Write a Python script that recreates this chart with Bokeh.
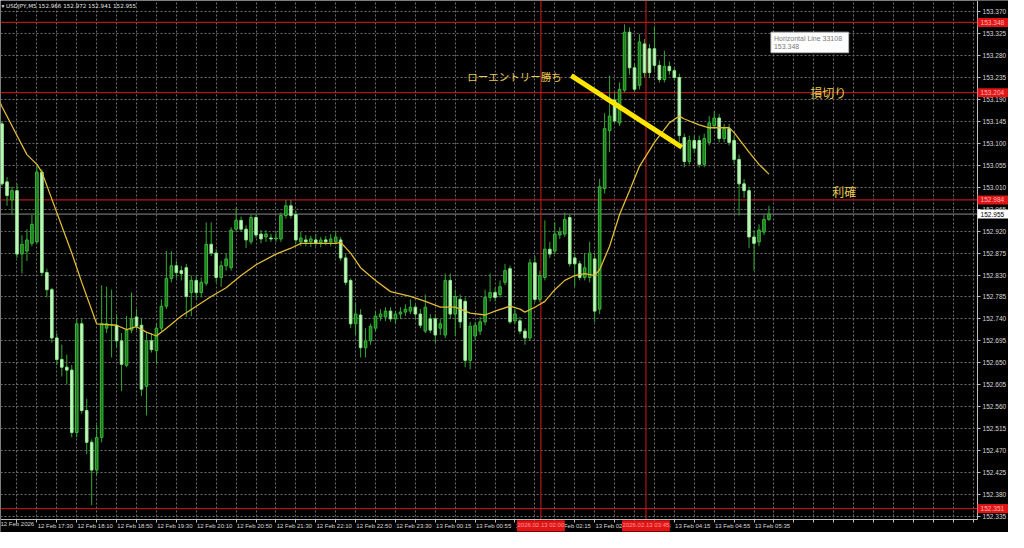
from bokeh.plotting import figure
from bokeh.models import (Range1d, FixedTicker, NumeralTickFormatter, Span, Label,
                          BoxAnnotation, ColumnDataSource)
from bokeh.embed import file_html
from bokeh.resources import INLINE

# ---------------- data (USDJPY M5) ----------------
bars = list(range(1, 156))

opens = [153.140, 153.021, 152.984, 153.003, 152.873, 152.879, 152.895, 152.898, 153.041, 152.835,
         152.800, 152.701, 152.657, 152.641, 152.635, 152.507, 152.730, 152.552, 152.487, 152.430,
         152.497, 152.721, 152.727, 152.727, 152.695, 152.645, 152.717, 152.744, 152.727, 152.602,
         152.695, 152.675, 152.721, 152.766, 152.823, 152.849, 152.839, 152.845, 152.794, 152.819,
         152.794, 152.813, 152.893, 152.875, 152.825, 152.849, 152.845, 152.924, 152.942, 152.924,
         152.898, 152.948, 152.914, 152.908, 152.906, 152.904, 152.904, 152.952, 152.972, 152.954,
         152.898, 152.902, 152.898, 152.902, 152.896, 152.902, 152.898, 152.898, 152.902, 152.865,
         152.819, 152.730, 152.748, 152.681, 152.695, 152.721, 152.744, 152.744, 152.756, 152.740,
         152.750, 152.754, 152.756, 152.764, 152.750, 152.715, 152.740, 152.740, 152.721, 152.707,
         152.819, 152.750, 152.780, 152.776, 152.655, 152.705, 152.715, 152.734, 152.784, 152.794,
         152.790, 152.815, 152.843, 152.736, 152.736, 152.715, 152.701, 152.855, 152.780, 152.825,
         152.883, 152.879, 152.912, 152.914, 152.948, 152.865, 152.853, 152.825, 152.825, 152.863,
         152.760, 153.007, 153.126, 153.189, 153.142, 153.209, 153.328, 153.255, 153.219, 153.304,
         153.294, 153.294, 153.260, 153.231, 153.258, 153.249, 153.235, 153.112, 153.063, 153.106,
         153.106, 153.057, 153.102, 153.136, 153.152, 153.110, 153.130, 153.106, 153.067, 153.017,
         153.003, 152.908, 152.898, 152.918, 152.944]

highs = [153.146, 153.031, 153.011, 153.017, 152.912, 152.924, 152.954, 153.057, 153.047, 152.843,
         152.804, 152.711, 152.687, 152.667, 152.645, 152.740, 152.740, 152.576, 152.493, 152.523,
         152.809, 152.806, 152.800, 152.750, 152.711, 152.746, 152.794, 152.760, 152.740, 152.711,
         152.711, 152.730, 152.780, 152.879, 152.879, 152.859, 152.849, 152.853, 152.829, 152.829,
         152.825, 152.938, 152.938, 152.883, 152.859, 152.875, 152.928, 152.968, 152.950, 152.932,
         152.954, 152.954, 152.922, 152.922, 152.914, 152.918, 152.958, 152.984, 152.984, 152.962,
         152.918, 152.912, 152.910, 152.914, 152.908, 152.910, 152.914, 152.918, 152.908, 152.873,
         152.823, 152.774, 152.760, 152.721, 152.730, 152.756, 152.760, 152.764, 152.764, 152.756,
         152.764, 152.770, 152.780, 152.770, 152.760, 152.790, 152.750, 152.750, 152.740, 152.833,
         152.833, 152.800, 152.790, 152.784, 152.734, 152.734, 152.744, 152.800, 152.833, 152.804,
         152.819, 152.853, 152.849, 152.760, 152.744, 152.721, 152.863, 152.869, 152.839, 152.942,
         152.898, 152.938, 152.928, 152.958, 152.954, 152.875, 152.859, 152.875, 152.898, 152.875,
         153.027, 153.162, 153.239, 153.205, 153.225, 153.344, 153.338, 153.264, 153.324, 153.314,
         153.304, 153.340, 153.270, 153.290, 153.268, 153.255, 153.243, 153.120, 153.116, 153.116,
         153.116, 153.120, 153.156, 153.166, 153.160, 153.140, 153.140, 153.116, 153.077, 153.027,
         153.011, 152.922, 152.934, 152.954, 152.972]

lows = [153.013, 152.972, 152.954, 152.865, 152.833, 152.859, 152.889, 152.895, 152.829, 152.784,
        152.691, 152.645, 152.622, 152.606, 152.497, 152.497, 152.546, 152.463, 152.358, 152.420,
        152.487, 152.711, 152.661, 152.681, 152.592, 152.641, 152.711, 152.717, 152.582, 152.542,
        152.671, 152.647, 152.715, 152.760, 152.815, 152.823, 152.819, 152.744, 152.746, 152.780,
        152.784, 152.808, 152.869, 152.815, 152.806, 152.839, 152.839, 152.918, 152.918, 152.885,
        152.893, 152.906, 152.895, 152.898, 152.898, 152.898, 152.898, 152.946, 152.946, 152.895,
        152.889, 152.889, 152.887, 152.889, 152.887, 152.891, 152.889, 152.893, 152.859, 152.809,
        152.721, 152.707, 152.661, 152.661, 152.687, 152.715, 152.736, 152.736, 152.734, 152.730,
        152.740, 152.746, 152.750, 152.740, 152.721, 152.711, 152.711, 152.691, 152.707, 152.701,
        152.740, 152.705, 152.721, 152.641, 152.637, 152.697, 152.707, 152.727, 152.776, 152.776,
        152.784, 152.809, 152.730, 152.730, 152.709, 152.687, 152.695, 152.774, 152.774, 152.819,
        152.865, 152.873, 152.904, 152.908, 152.847, 152.806, 152.819, 152.819, 152.815, 152.734,
        152.750, 152.997, 153.082, 153.140, 153.136, 153.205, 153.241, 153.205, 153.211, 153.235,
        153.235, 153.251, 153.225, 153.225, 153.241, 153.229, 153.102, 153.051, 153.057, 153.080,
        153.051, 153.051, 153.096, 153.130, 153.102, 153.102, 153.096, 153.057, 152.952, 152.988,
        152.885, 152.839, 152.889, 152.912, 152.941]

closes = [153.017, 152.993, 153.003, 152.873, 152.893, 152.902, 152.934, 153.041, 152.835, 152.800,
          152.701, 152.657, 152.641, 152.635, 152.507, 152.730, 152.552, 152.487, 152.430, 152.497,
          152.730, 152.730, 152.728, 152.695, 152.647, 152.717, 152.740, 152.725, 152.596, 152.695,
          152.677, 152.721, 152.766, 152.823, 152.849, 152.835, 152.833, 152.786, 152.819, 152.794,
          152.815, 152.893, 152.875, 152.825, 152.849, 152.863, 152.922, 152.942, 152.924, 152.902,
          152.948, 152.912, 152.904, 152.914, 152.904, 152.906, 152.952, 152.972, 152.952, 152.902,
          152.906, 152.898, 152.904, 152.896, 152.902, 152.898, 152.904, 152.908, 152.865, 152.815,
          152.730, 152.750, 152.681, 152.695, 152.725, 152.746, 152.750, 152.756, 152.740, 152.750,
          152.754, 152.760, 152.764, 152.750, 152.727, 152.764, 152.717, 152.707, 152.730, 152.819,
          152.750, 152.786, 152.734, 152.655, 152.725, 152.727, 152.734, 152.784, 152.794, 152.784,
          152.806, 152.839, 152.734, 152.750, 152.715, 152.701, 152.855, 152.780, 152.829, 152.883,
          152.873, 152.914, 152.918, 152.944, 152.853, 152.853, 152.825, 152.845, 152.875, 152.756,
          153.011, 153.130, 153.156, 153.146, 153.211, 153.328, 153.255, 153.211, 153.308, 153.245,
          153.245, 153.260, 153.231, 153.258, 153.249, 153.235, 153.116, 153.063, 153.106, 153.090,
          153.057, 153.110, 153.142, 153.152, 153.110, 153.130, 153.102, 153.067, 153.017, 153.003,
          152.908, 152.895, 152.922, 152.944, 152.955]

# moving average
ma_bars = [0, 1, 4, 6, 8, 9, 12, 15, 17, 20,
           24, 26, 28, 30, 32, 34, 37, 40, 43, 46,
           49, 52, 56, 59, 61, 68, 69, 71, 73, 76,
           79, 83, 86, 89, 92, 95, 98, 100, 103, 105,
           106, 108, 110, 112, 114, 116, 118, 120, 121, 123,
           125, 127, 129, 132, 135, 137, 138, 141, 143, 147,
           148, 151, 153, 155]
ma_vals = [153.197, 153.175, 153.116, 153.077, 153.057, 153.041, 152.958, 152.875, 152.815, 152.730,
           152.727, 152.718, 152.724, 152.713, 152.705, 152.721, 152.746, 152.766, 152.786, 152.804,
           152.829, 152.851, 152.873, 152.885, 152.895, 152.895, 152.897, 152.875, 152.845, 152.819,
           152.796, 152.786, 152.776, 152.764, 152.764, 152.752, 152.748, 152.756, 152.766, 152.760,
           152.754, 152.764, 152.776, 152.800, 152.819, 152.829, 152.833, 152.829, 152.841, 152.889,
           152.954, 153.003, 153.053, 153.102, 153.142, 153.156, 153.150, 153.138, 153.132, 153.132,
           153.122, 153.082, 153.057, 153.037]

price_ticks = [152.335, 152.380, 152.425, 152.470, 152.515, 152.560, 152.605, 152.650,
               152.695, 152.740, 152.785, 152.830, 152.875, 152.920, 152.965, 153.010,
               153.055, 153.100, 153.145, 153.190, 153.235, 153.280, 153.325, 153.370]

time_tick_bars = [8, 16, 24, 32, 40, 48, 56, 64, 72, 80, 88, 96, 104, 112, 120, 128, 136, 144, 152]
time_labels = ["12 Feb 17:30", "12 Feb 18:10", "12 Feb 18:50", "12 Feb 19:30", "12 Feb 20:10",
               "12 Feb 20:50", "12 Feb 21:30", "12 Feb 22:10", "12 Feb 22:50", "12 Feb 23:30",
               "13 Feb 00:15", "13 Feb 00:55", "13 Feb 01:35", "13 Feb 02:15", "13 Feb 02:55",
               "13 Feb 03:35", "13 Feb 04:15", "13 Feb 04:55", "13 Feb 05:35"]
first_date_label = "12 Feb 2026"

h_levels = [153.348, 153.204, 152.984, 152.351]
bid_price = 152.955
v_line_bars = [109.2, 130.3]
v_line_labels = ["2026.02.13 02:00", "2026.02.13 03:45"]

arrow_bars = [115.3, 137.5]
arrow_prices = [153.239, 153.092]

title_text = "\u25be USDJPY,M5  152.966 152.972 152.941 152.955"

# ---------------- figure ----------------
# the frame fills the whole canvas; the price and time scales sit at fixed
# positions inside it (as in the terminal), so their tags can be drawn on them
X0, XR = 0.69, 203.1          # visible bar range (left edge .. canvas right edge)
YB, Y1 = 152.302, 153.393     # visible price range (canvas bottom .. top)
XA = 196.9                    # bar position of the price scale line
YA = 152.329                  # price position of the time scale line

p = figure(width=1008, height=532, x_range=Range1d(X0, XR), y_range=Range1d(YB, Y1),
           y_axis_location="right", output_backend="svg", toolbar_location=None,
           background_fill_color="#000000", border_fill_color="#000000",
           outline_line_color=None, min_border_left=0, min_border_right=0,
           min_border_top=0, min_border_bottom=0)

AX = "#bdbdbd"
TXT = "#d8d8d8"

# x axis (time): small tick marks every 4 bars, labels start at their bar (MT4 style)
grid_bars = list(range(0, 197, 4))
label_ticks = [b + 3.7 for b in time_tick_bars]
xa = p.xaxis[0]
xa.fixed_location = YA
xa.bounds = (X0, XA)
xa.ticker = FixedTicker(ticks=label_ticks, minor_ticks=grid_bars)
xa.major_label_overrides = {t: lab for t, lab in zip(label_ticks, time_labels)}
xa.major_label_text_font = "Liberation Sans"
xa.major_label_text_font_size = "6px"
xa.major_label_text_color = TXT
xa.major_label_standoff = 1
xa.axis_line_color = AX
xa.major_tick_line_color = None
xa.major_tick_in = 0
xa.major_tick_out = 0
xa.minor_tick_line_color = AX
xa.minor_tick_in = 0
xa.minor_tick_out = 3
p.xgrid.ticker = FixedTicker(ticks=grid_bars)

# y axis (price)
ya = p.yaxis[0]
ya.fixed_location = XA
ya.bounds = (YA, Y1)
ya.ticker = FixedTicker(ticks=price_ticks)
ya.formatter = NumeralTickFormatter(format="0.000")
ya.major_label_text_font = "Liberation Sans"
ya.major_label_text_font_size = "6.5px"
ya.major_label_text_color = TXT
ya.major_label_standoff = 2
ya.axis_line_color = AX
ya.major_tick_line_color = AX
ya.major_tick_in = 0
ya.major_tick_out = 3
ya.minor_tick_line_color = None

p.grid.grid_line_color = "#6e6e6e"
p.grid.grid_line_dash = "2 2"
p.grid.grid_line_width = 1

# horizontal / vertical object lines (under the candles)
RED = "#b01818"
for lv in h_levels:
    p.add_layout(Span(location=lv, dimension="width", line_color=RED, line_width=1.2, level="underlay"))
p.add_layout(Span(location=bid_price, dimension="width", line_color="#8a8a8a", line_width=1,
                  level="underlay"))
for vb in v_line_bars:
    p.add_layout(Span(location=vb, dimension="height", line_color=RED, line_width=1.2, level="underlay"))

# black scale strips (hide grid and object lines under the scales)
p.add_layout(BoxAnnotation(left=XA, fill_color="#000000", fill_alpha=1, line_color=None, level="underlay"))
p.add_layout(BoxAnnotation(top=YA, fill_color="#000000", fill_alpha=1, line_color=None, level="underlay"))

# candles
bull = [c >= o for o, c in zip(opens, closes)]
src = ColumnDataSource(dict(
    bar=bars, open=opens, high=highs, low=lows, close=closes,
    top=[max(o, c) for o, c in zip(opens, closes)],
    bottom=[min(o, c) for o, c in zip(opens, closes)],
    fill=["#1d7a1d" if b else "#c8f6c0" for b in bull],
    edge=["#39b839" if b else "#8ee88e" for b in bull],
))
p.segment(x0="bar", y0="low", x1="bar", y1="high", line_color="#33a833", line_width=1, source=src)
p.vbar(x="bar", width=0.52, top="top", bottom="bottom", fill_color="fill", line_color="edge",
       line_width=1, source=src)

# moving average
p.line(ma_bars, ma_vals, line_color="#e2bb34", line_width=1.3)

# hand-drawn trend line
p.line(arrow_bars, arrow_prices, line_color="#ffe600", line_width=5)

# texts
jp = "Noto Sans CJK JP"
gold = "#e8c94e"
p.add_layout(Label(x=94.4, y=153.237, text="ローエントリー勝ち", text_font=jp, text_font_size="10.5px",
                   text_color=gold, text_baseline="middle", text_align="left"))
p.add_layout(Label(x=163.3, y=153.204, text="損切り", text_font=jp, text_font_size="12px",
                   text_color=gold, text_baseline="middle", text_align="left"))
p.add_layout(Label(x=167.7, y=153.001, text="利確", text_font=jp, text_font_size="12px",
                   text_color=gold, text_baseline="middle", text_align="left"))

# tooltip box
p.add_layout(BoxAnnotation(left=155.4, right=171.0, top=153.328, bottom=153.286,
                           fill_color="#ffffff", fill_alpha=1, line_color="#b8b8b8", line_alpha=1))
p.add_layout(Label(x=156.0, y=153.316, text="Horizontal Line 33108", text_font="Liberation Sans",
                   text_font_size="7px", text_color="#7a7a7a", text_baseline="middle"))
p.add_layout(Label(x=156.0, y=153.298, text="153.348", text_font="Liberation Sans",
                   text_font_size="7px", text_color="#7a7a7a", text_baseline="middle"))

# title
p.add_layout(Label(x=X0, y=Y1, x_offset=1, y_offset=-2, text=title_text, text_font="DejaVu Sans",
                   text_font_size="5.6px", text_color="#e6e6e6", text_baseline="top",
                   text_align="left"))

# price tags on the scale
TAG_H = 0.0093
for lv in h_levels:
    p.add_layout(BoxAnnotation(left=XA, bottom=lv - TAG_H, top=lv + TAG_H, fill_color="#e01414",
                               fill_alpha=1, line_color=None))
    p.add_layout(Label(x=XA, y=lv, x_offset=3, text="%.3f" % lv, text_font="Liberation Sans",
                       text_font_size="6.5px", text_color="#ffb4b4", text_baseline="middle",
                       text_align="left"))
p.add_layout(BoxAnnotation(left=XA, bottom=bid_price - TAG_H, top=bid_price + TAG_H,
                           fill_color="#ffffff", fill_alpha=1, line_color=None))
p.add_layout(Label(x=XA, y=bid_price, x_offset=3, text="%.3f" % bid_price, text_font="Liberation Sans",
                   text_font_size="6.5px", text_color="#000000", text_baseline="middle",
                   text_align="left"))

# time tags on the time scale
for vb, lab in zip(v_line_bars, v_line_labels):
    p.add_layout(BoxAnnotation(left=vb - 4.8, right=vb + 4.8, top=YA - 0.002, bottom=YB + 0.002,
                               fill_color="#e01414", fill_alpha=1, line_color=None))
    p.add_layout(Label(x=vb, y=YA, y_offset=-6, text=lab, text_font="Liberation Sans",
                       text_font_size="6px", text_color="#ff9a9a", text_baseline="middle",
                       text_align="center"))
p.add_layout(Label(x=X0, y=YA, y_offset=-2, text=first_date_label, text_font="Liberation Sans",
                   text_font_size="6px", text_color=TXT, text_baseline="top", text_align="left"))

open("out.html", "w").write(file_html(p, INLINE))
